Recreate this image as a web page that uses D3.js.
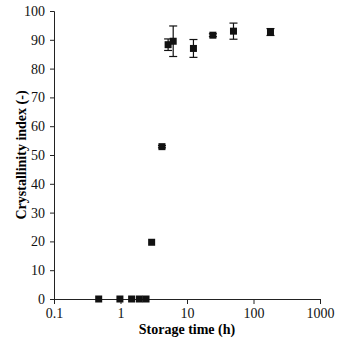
<!DOCTYPE html>
<html>
<head>
<meta charset="utf-8">
<script src="https://cdn.jsdelivr.net/npm/d3@7"></script>
<style>
  body { margin: 0; background: #fff; }
  text { font-family: "Liberation Serif", "Times New Roman", serif; }
</style>
</head>
<body>
<div id="chart"></div>
<script>
// storage time (h), crystallinity index (-), error (+/-)
const times = [0.47, 0.98, 1.47, 1.92, 2.42, 2.94, 4.2, 5.2, 6.2, 12.5, 24.5, 50, 180];
const crystallinity = [0, 0, 0, 0, 0, 19.7, 52.9, 88.3, 89.5, 87.0, 91.6, 93.0, 92.7];
const errors = [0, 0, 0, 0, 0, 0, 0.4, 2.0, 5.3, 3.1, 0.5, 2.8, 1.2];
const xTicks = [0.1, 1, 10, 100, 1000];
const yTicks = [0, 10, 20, 30, 40, 50, 60, 70, 80, 90, 100];

const data = times.map((t, i) => ({t, y: crystallinity[i], e: errors[i]}));

const width = 339, height = 340;
const margin = {top: 11, right: 19, bottom: 41, left: 54};

const svg = d3.select('#chart').append('svg')
  .attr('width', width)
  .attr('height', height);

const x = d3.scaleLog().domain([0.1, 1000]).range([margin.left, width - margin.right]);
const y = d3.scaleLinear().domain([0, 100]).range([height - margin.bottom, margin.top]);

const xAxis = svg.append('g')
  .attr('transform', `translate(0,${y(0)})`)
  .call(d3.axisBottom(x).tickValues(xTicks).tickFormat(d => d).tickSizeOuter(0).tickSize(5).tickPadding(4));

const yAxis = svg.append('g')
  .attr('transform', `translate(${x(0.1)},0)`)
  .call(d3.axisLeft(y).tickValues(yTicks).tickSizeOuter(0).tickSize(4).tickPadding(5));

[xAxis, yAxis].forEach(g => {
  g.selectAll('path, line').attr('stroke', '#222');
  g.selectAll('text').style('font-size', '14px').attr('fill', '#111');
});

// error bars
const bars = svg.append('g').selectAll('g')
  .data(data.filter(d => d.e > 0))
  .enter().append('g')
  .attr('stroke', '#111')
  .attr('stroke-width', 1.2);

bars.append('line')
  .attr('x1', d => x(d.t)).attr('x2', d => x(d.t))
  .attr('y1', d => y(d.y + d.e)).attr('y2', d => y(d.y - d.e));
bars.append('line')
  .attr('x1', d => x(d.t) - 4).attr('x2', d => x(d.t) + 4)
  .attr('y1', d => y(d.y + d.e)).attr('y2', d => y(d.y + d.e));
bars.append('line')
  .attr('x1', d => x(d.t) - 4).attr('x2', d => x(d.t) + 4)
  .attr('y1', d => y(d.y - d.e)).attr('y2', d => y(d.y - d.e));

// markers
svg.append('g').selectAll('rect')
  .data(data)
  .enter().append('rect')
  .attr('x', d => x(d.t) - 3.5)
  .attr('y', d => y(d.y) - 3.5)
  .attr('width', 7)
  .attr('height', 7)
  .attr('fill', '#111');

svg.append('text')
  .attr('x', (x(0.1) + x(1000)) / 2)
  .attr('y', 334)
  .attr('text-anchor', 'middle')
  .style('font-size', '14px')
  .style('font-weight', 'bold')
  .text('Storage time (h)');

svg.append('text')
  .attr('transform', `translate(26,${(y(0) + y(100)) / 2}) rotate(-90)`)
  .attr('text-anchor', 'middle')
  .style('font-size', '14px')
  .style('font-weight', 'bold')
  .text('Crystallinity index (-)');
</script>
</body>
</html>
